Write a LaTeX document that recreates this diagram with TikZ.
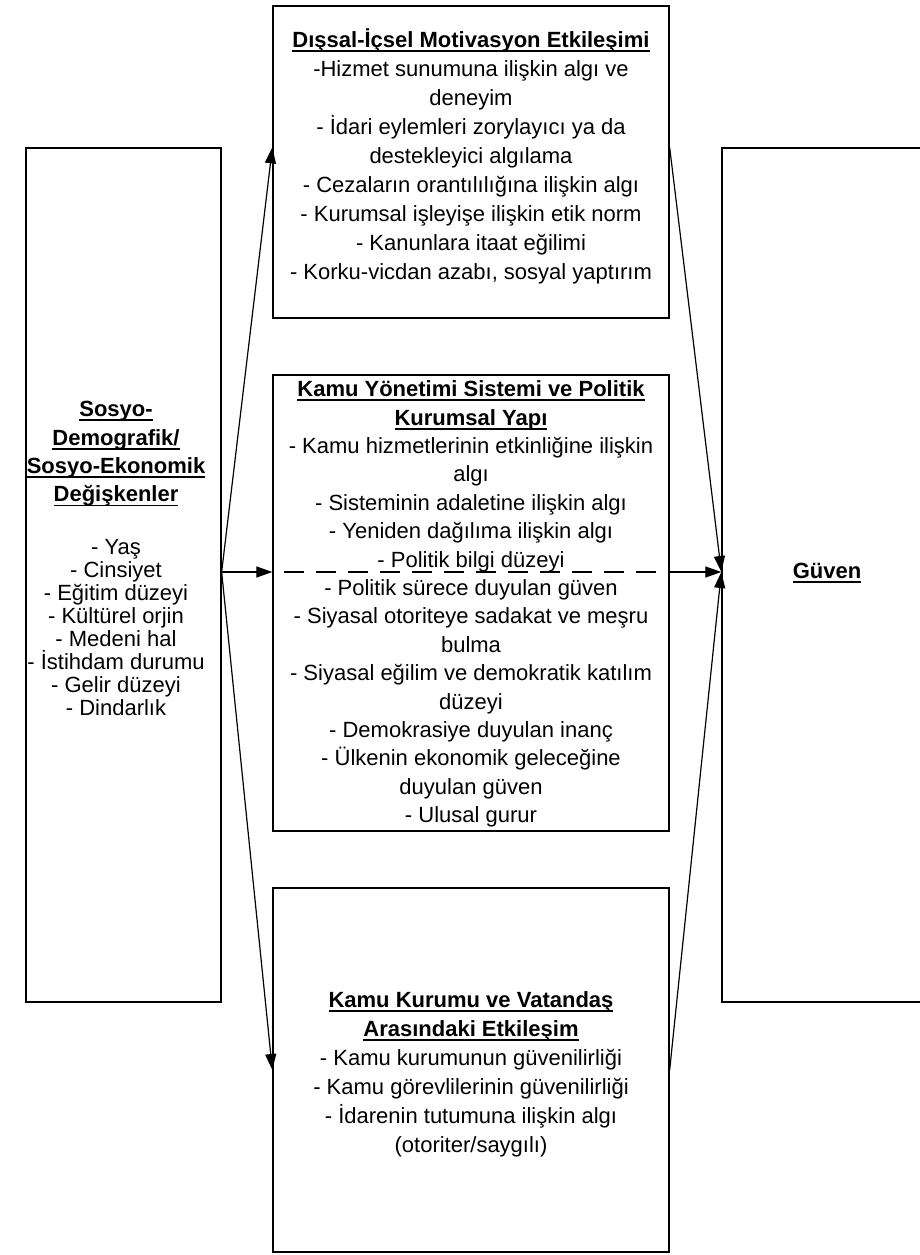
\documentclass[tikz,border=0pt]{standalone}
\usepackage{fontspec}
\setmainfont{Liberation Sans}
\usetikzlibrary{arrows.meta,positioning}

% underlined bold heading, rule at a fixed depth
\newcommand{\ulbf}[1]{\setbox0=\hbox{\bfseries #1}\rlap{\rule[-4.5pt]{\wd0}{1.8pt}}\box0}

\tikzset{
  box/.style={draw, line width=1.3pt, inner sep=0pt},
  txt/.style={align=center, inner sep=0pt, font=\fontsize{22}{29}\selectfont},
  tighttxt/.style={align=center, inner sep=0pt, font=\fontsize{22}{28.4}\selectfont},
  listtxt/.style={align=center, inner sep=0pt, font=\fontsize{22}{23}\selectfont},
  link/.style={line width=1.2pt, -{Triangle[length=16pt,width=11pt]}},
  plain/.style={line width=1.2pt},
}

\begin{document}
\begin{tikzpicture}[x=1pt,y=-1pt]

    \useasboundingbox (0,0) rectangle (920,1255);
    \clip (0,0) rectangle (920,1255);

    % boxes
    \node[box, minimum width=195, minimum height=854] (demo) at (123.5,575) {};
    \node[box, minimum width=396, minimum height=312] (mot) at (471,162) {};
    \node[box, minimum width=396, minimum height=456] (kamu) at (471,603) {};
    \node[box, minimum width=396, minimum height=364] (kurum) at (471,1070) {};
    \node[box, minimum width=210, minimum height=854] (guven) at (827,575) {};

    % texts
    \node[tighttxt] (demotitle) at (116,454) {\ulbf{Sosyo-}\\\ulbf{Demografik/}\\\ulbf{Sosyo-Ekonomik}\\\ulbf{Değişkenler}};
    \node[listtxt] (demolist) at (116,628) {- Yaş\\- Cinsiyet\\- Eğitim düzeyi\\- Kültürel orjin\\- Medeni hal\\- İstihdam durumu\\- Gelir düzeyi\\- Dindarlık};

    \node[txt] (mottext) at (471,156) {\ulbf{Dışsal-İçsel Motivasyon Etkileşimi}\\
      -Hizmet sunumuna ilişkin algı ve\\deneyim\\
      - İdari eylemleri zorylayıcı ya da\\destekleyici algılama\\
      - Cezaların orantılılığına ilişkin algı\\
      - Kurumsal işleyişe ilişkin etik norm\\
      - Kanunlara itaat eğilimi\\
      - Korku-vicdan azabı, sosyal yaptırım};

    \node[tighttxt] (kamutext) at (471,604) {\ulbf{Kamu Yönetimi Sistemi ve Politik}\\\ulbf{Kurumsal Yapı}\\
      - Kamu hizmetlerinin etkinliğine ilişkin\\algı\\
      - Sisteminin adaletine ilişkin algı\\
      - Yeniden dağılıma ilişkin algı\\
      - Politik bilgi düzeyi\\
      - Politik sürece duyulan güven\\
      - Siyasal otoriteye sadakat ve meşru\\bulma\\
      - Siyasal eğilim ve demokratik katılım\\düzeyi\\
      - Demokrasiye duyulan inanç\\
      - Ülkenin ekonomik geleceğine\\duyulan güven\\
      - Ulusal gurur};

    \node[txt] (kurumtext) at (471,1074) {\ulbf{Kamu Kurumu ve Vatandaş}\\\ulbf{Arasındaki Etkileşim}\\
      - Kamu kurumunun güvenilirliği\\
      - Kamu görevlilerinin güvenilirliği\\
      - İdarenin tutumuna ilişkin algı\\
      (otoriter/saygılı)};

    \node[txt] (guventext) at (827,573) {\ulbf{Güven}};

    % connectors
    \coordinate (hubin) at ([yshift=3pt]demo.east);
    \coordinate (hubout) at ([yshift=3pt]guven.west);
    \coordinate (kamuin) at (kamu.west |- hubin);
    \coordinate (kamuout) at (kamu.east |- hubin);

    \draw[link] (hubin) -- (mot.west |- demo.north);
    \draw[link] (hubin) -- (kamuin);
    \draw[link] (hubin) -- (kurum.west);
    \draw[plain, dash pattern=on 20pt off 12pt, dash phase=20pt] (kamuin) -- (kamuout);

    \draw[link] (mot.east |- guven.north) -- (hubout);
    \draw[link] (kamuout) -- (hubout);
    \draw[link] (kurum.east) -- (hubout);

\end{tikzpicture}
\end{document}
